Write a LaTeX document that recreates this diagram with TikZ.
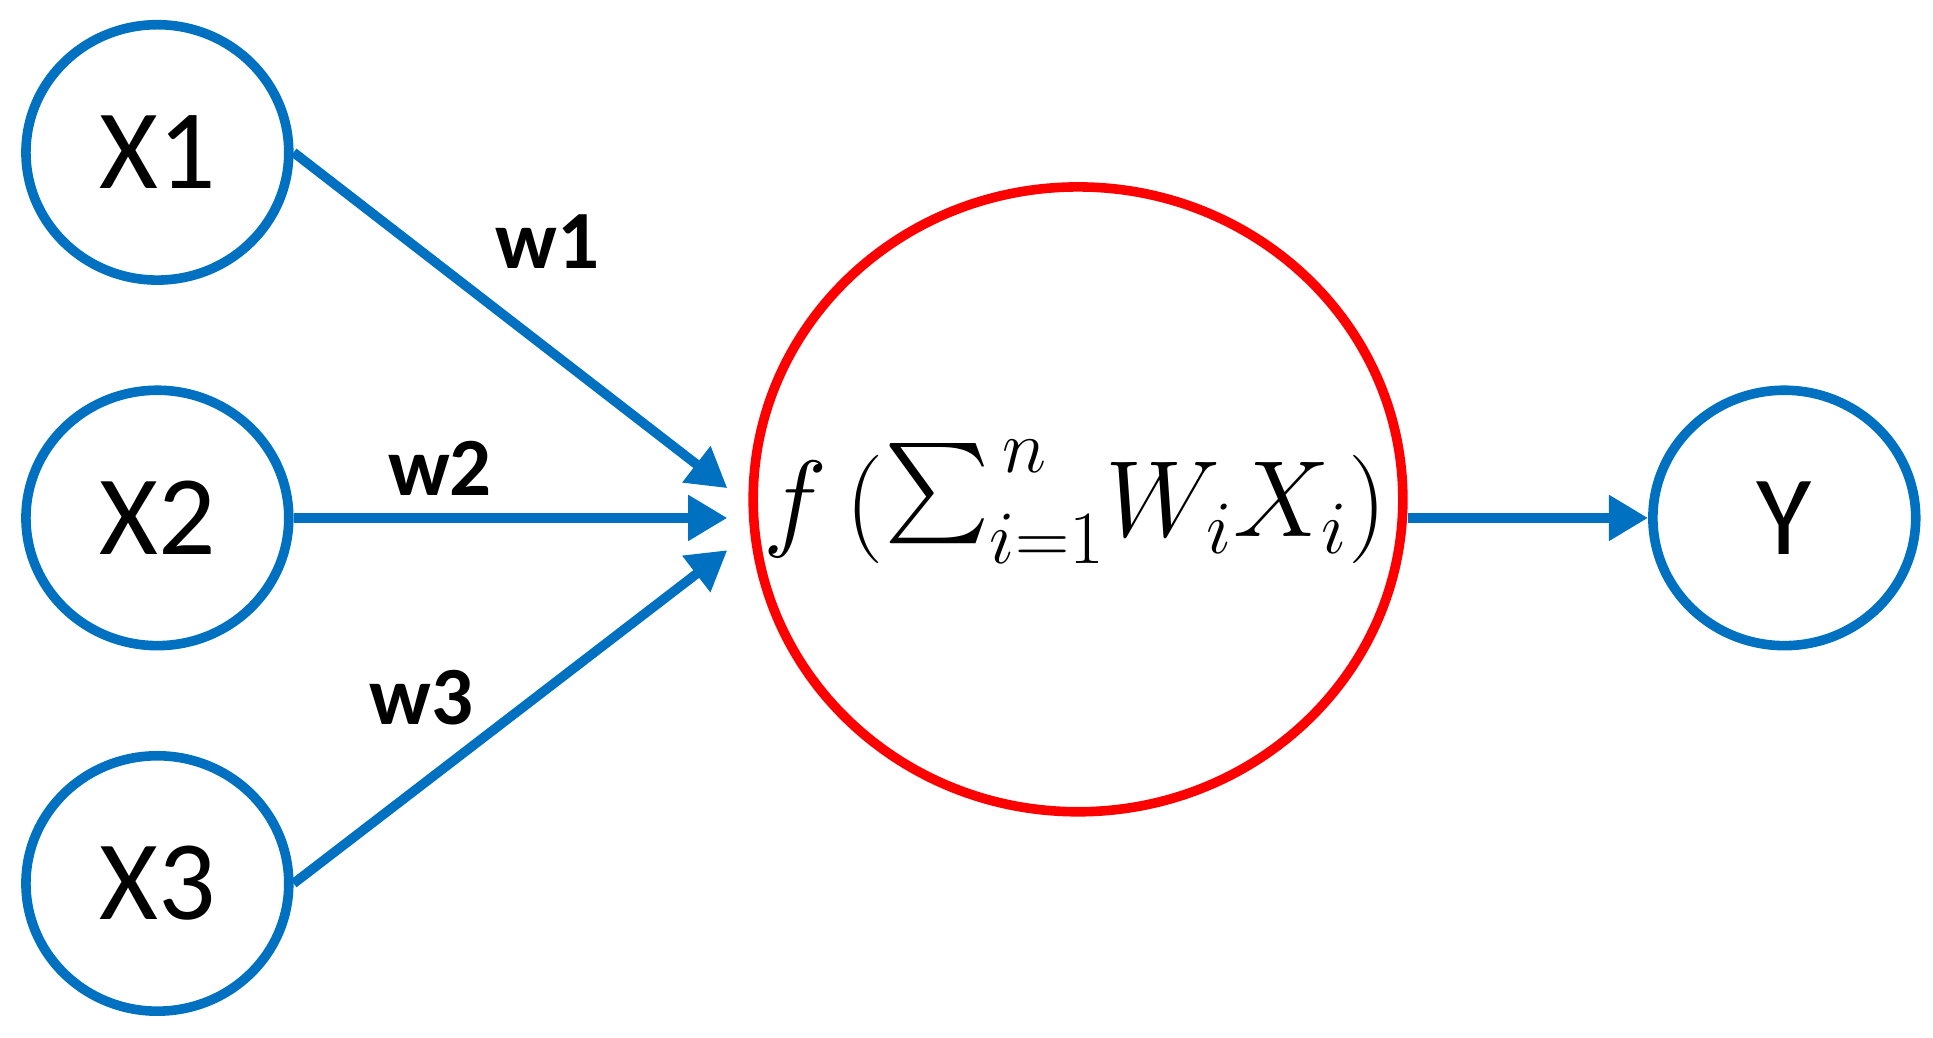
\documentclass[tikz,border=0pt]{standalone}
\usepackage{graphicx}
\usepackage{fontspec}
\setmainfont{Carlito}
\usetikzlibrary{arrows.meta,shapes.geometric}
\definecolor{bl}{RGB}{0,112,192}
\begin{document}
\begin{tikzpicture}[x=0.01cm,y=-0.01cm,
  inp/.style={draw=bl,line width=2.2pt,ellipse,minimum width=2.12cm,minimum height=2.06cm,inner sep=0pt,font=\fontsize{26}{30}\selectfont},
  con/.style={draw=bl,line width=2.2pt,-{Triangle[length=9pt,width=10pt]}},
  wl/.style={font=\bfseries\fontsize{19}{22}\selectfont}]
\useasboundingbox (0,0) rectangle (1560,837);
\node[inp] (x1) at (127,123) {X1};
\node[inp] (x2) at (127,418) {X2};
\node[inp] (x3) at (127,713) {X3};
\node[inp] (y) at (1440,418) {Y};
\node[draw=red,line width=2.2pt,ellipse,minimum width=5.24cm,minimum height=5.04cm,inner sep=0pt] (f) at (870,403) {};
\node (ft) at (868,405) {\fontsize{26}{30}\selectfont $f\,(\raisebox{-0.35ex}{\scalebox{2.3}{$\sum$}}_{i=1}^{\,n} W_iX_i)$};
\coordinate (a1) at (587,394);
\coordinate (a2) at (587,418);
\coordinate (a3) at (587,444);
\draw[con] (x1.east) -- (a1);
\draw[con] (x2.east) -- (a2);
\draw[con] (x3.east) -- (a3);
\draw[con] (f.east |- y.west) -- (y.west);
\node[wl] (w1) at (442,195) {w1};
\node[wl] (w2) at (355,378) {w2};
\node[wl] (w3) at (340,563) {w3};
\end{tikzpicture}
\end{document}
